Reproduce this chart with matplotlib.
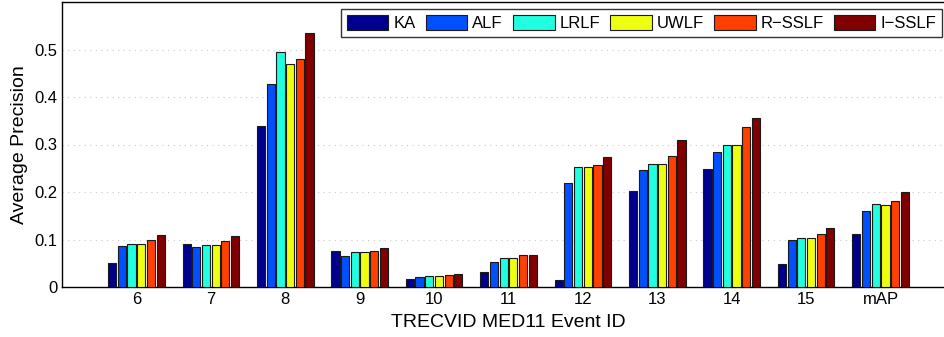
import matplotlib
matplotlib.use("Agg")
import matplotlib.pyplot as plt
import numpy as np

plt.rcParams['font.family'] = ['Liberation Sans', 'DejaVu Sans']

categories = ['6', '7', '8', '9', '10', '11', '12', '13', '14', '15', 'mAP']
methods = ['KA', 'ALF', 'LRLF', 'UWLF', 'R\u2212SSLF', 'I\u2212SSLF']
KA    = [0.050, 0.090, 0.340, 0.076, 0.017, 0.031, 0.014, 0.202, 0.248, 0.048, 0.112]
ALF   = [0.087, 0.085, 0.427, 0.066, 0.022, 0.053, 0.218, 0.246, 0.285, 0.098, 0.159]
LRLF  = [0.091, 0.089, 0.494, 0.073, 0.023, 0.061, 0.252, 0.258, 0.298, 0.103, 0.174]
UWLF  = [0.091, 0.089, 0.470, 0.073, 0.023, 0.061, 0.252, 0.258, 0.298, 0.103, 0.172]
RSSLF = [0.098, 0.096, 0.479, 0.075, 0.026, 0.067, 0.257, 0.276, 0.336, 0.112, 0.182]
ISSLF = [0.110, 0.107, 0.534, 0.083, 0.028, 0.067, 0.273, 0.309, 0.356, 0.124, 0.199]
series = [KA, ALF, LRLF, UWLF, RSSLF, ISSLF]
colors = ['#00008F', '#0050FF', '#20FFDF', '#EFFF10', '#FF4000', '#800000']

fig = plt.figure(figsize=(9.45, 3.37), dpi=100)
ax = fig.add_axes([62/945, 50/337, (955-62)/945, (287-2)/337])

x = np.arange(1, len(categories) + 1)
slot = 0.13
bw = 0.11
for i, (vals, c, m) in enumerate(zip(series, colors, methods)):
    ax.bar(x + (i - 2.5) * slot, vals, width=bw, color=c, edgecolor='#1a1a1a',
           linewidth=0.8, label=m, zorder=3)

ax.set_xlim(0, 12)
ax.set_ylim(0, 0.6)
ax.set_xticks(x)
ax.set_xticklabels(categories)
ax.set_yticks([0, 0.1, 0.2, 0.3, 0.4, 0.5])
ax.set_yticklabels(['0', '0.1', '0.2', '0.3', '0.4', '0.5'])
ax.tick_params(axis='both', labelsize=12, direction='in', length=0)
ax.yaxis.grid(True, linestyle=(0, (1, 4)), color='#c8c8c8', linewidth=0.8, zorder=0)
ax.set_axisbelow(True)
for s in ['top', 'left', 'bottom']:
    ax.spines[s].set_linewidth(1.0)
    ax.spines[s].set_color('black')
ax.spines['right'].set_visible(False)

ax.set_ylabel('Average Precision', fontsize=14, labelpad=4)
ax.set_xlabel('TRECVID MED11 Event ID', fontsize=14, labelpad=5)

leg = ax.legend(ncol=6, loc='upper right', bbox_to_anchor=(942/945, 1 - 9/337),
                bbox_transform=fig.transFigure, fontsize=12, frameon=True,
                fancybox=False, edgecolor='black', handlelength=2.5, handleheight=1.0,
                handletextpad=0.3, columnspacing=0.6, borderpad=0.35, borderaxespad=0)
leg.get_frame().set_linewidth(1.0)

fig.savefig('out.png', dpi=100)
